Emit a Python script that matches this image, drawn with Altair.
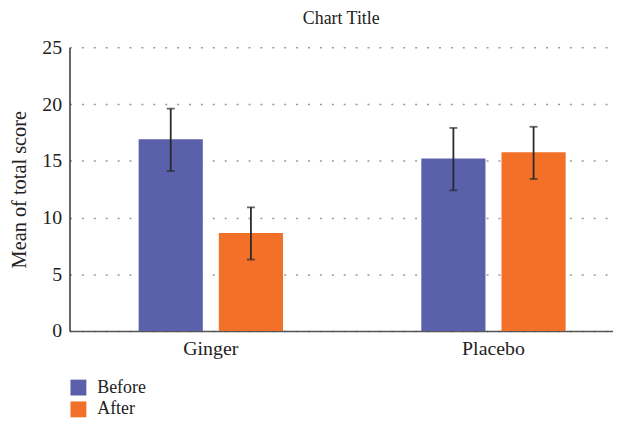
import altair as alt
import pandas as pd

categories = ["Ginger", "Placebo"]
series = ["Before", "After"]
before_mean = [16.9, 15.2]
after_mean = [8.65, 15.75]
before_low = [14.1, 12.4]
before_high = [19.6, 17.9]
after_low = [6.3, 13.4]
after_high = [10.9, 18.0]
colors = ["#5b60aa", "#f27028"]

rows = []
for i, c in enumerate(categories):
    rows.append({"group": c, "time": "Before", "mean": before_mean[i], "low": before_low[i], "high": before_high[i]})
    rows.append({"group": c, "time": "After", "mean": after_mean[i], "low": after_low[i], "high": after_high[i]})
df = pd.DataFrame(rows)

FONT = "Liberation Serif"

x = alt.X("group:N", sort=categories, title=None,
          scale=alt.Scale(range=[0, 570], paddingInner=0, paddingOuter=0),
          axis=alt.Axis(labelAngle=0, ticks=False, labelFontSize=20, labelPadding=8,
                        labelFont=FONT, labelColor="#222", domainColor="#555", domainWidth=1.5))
xo = alt.XOffset("time:N", sort=series,
                 scale=alt.Scale(paddingInner=0.2, paddingOuter=0.8625))
yscale = alt.Scale(domain=[0, 25], nice=False, zero=True)

base = alt.Chart(df)

bars = base.mark_bar().encode(
    x=x, xOffset=xo,
    y=alt.Y("mean:Q", title="Mean of total score", scale=yscale,
            axis=alt.Axis(values=[0, 5, 10, 15, 20, 25], ticks=False, labelFontSize=20,
                          labelFont=FONT, labelColor="#222", labelPadding=8,
                          titleFont=FONT, titleFontSize=20.5, titleFontWeight="normal",
                          titleColor="#222", titlePadding=12,
                          domainColor="#333", domainWidth=1.5,
                          grid=True, gridColor="#999", gridDash=[2, 10], gridWidth=1.5)),
    color=alt.Color("time:N", sort=series,
                    scale=alt.Scale(domain=series, range=colors),
                    legend=alt.Legend(title=None, orient="none", legendX=0, legendY=334,
                                      symbolType="square", symbolSize=256, symbolStrokeWidth=0,
                                      labelFont=FONT, labelFontSize=18, labelColor="#222",
                                      rowPadding=4, padding=0, labelOffset=10)),
)

rules = base.mark_rule(color="#2a2a2a", strokeWidth=1.8).encode(
    x=x, xOffset=xo, y=alt.Y("low:Q", scale=yscale), y2="high:Q")
caps_low = base.mark_tick(color="#2a2a2a", thickness=1.8, size=8).encode(
    x=x, xOffset=xo, y=alt.Y("low:Q", scale=yscale))
caps_high = base.mark_tick(color="#2a2a2a", thickness=1.8, size=8).encode(
    x=x, xOffset=xo, y=alt.Y("high:Q", scale=yscale))

chart = alt.layer(bars, rules, caps_low, caps_high).properties(
    width=548, height=286,
    title=alt.TitleParams("Chart Title", font=FONT, fontSize=18, fontWeight="normal",
                          color="#222", offset=10, anchor="middle"),
    autosize=alt.AutoSizeParams(type="none"),
    padding={"left": 62, "top": 38, "right": 0, "bottom": 86},
).configure_view(stroke=None)

chart.save("out.html", embed_options={"renderer": "svg", "actions": False})
